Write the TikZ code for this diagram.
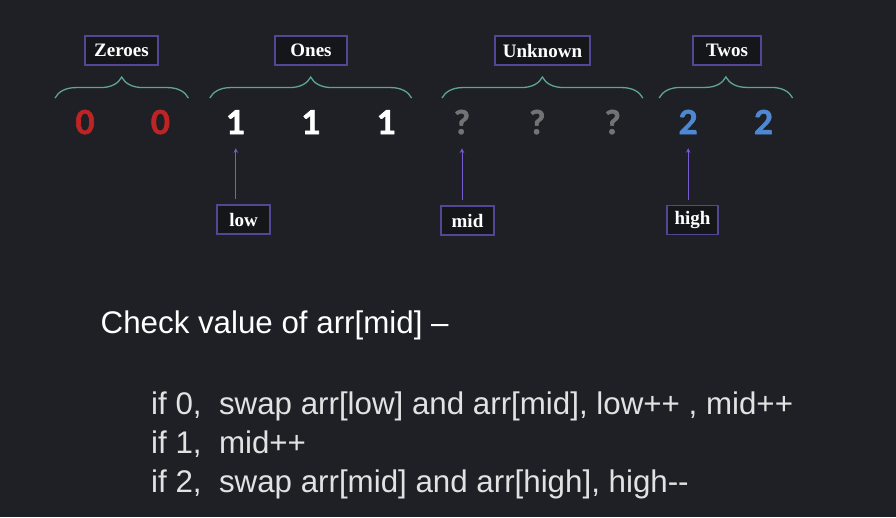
\documentclass[tikz,border=0pt]{standalone}
\usepackage{fontspec}
\setmainfont{Liberation Sans}
\newfontfamily\digitfont[BoldFeatures={FakeBold=2}]{Lato}
\newfontfamily\labelfont{Liberation Serif}
\usepackage{tikz}
\usetikzlibrary{arrows,positioning,calc,decorations.pathreplacing}
\definecolor{dsbg}{RGB}{30,32,38}
\definecolor{dsboxfill}{RGB}{21,22,26}
\definecolor{dspurple}{RGB}{84,70,148}
\definecolor{dsarrow}{RGB}{122,92,210}
\definecolor{dsteal}{RGB}{95,165,150}
\definecolor{dsred}{RGB}{190,36,36}
\definecolor{dsgray}{RGB}{115,115,118}
\definecolor{dsblue}{RGB}{78,136,210}
\definecolor{dstext}{RGB}{226,226,226}
\tikzstyle{digit} = [font=\digitfont\fontsize{33}{33}\selectfont\bfseries, inner sep=0pt, anchor=base]
\tikzstyle{tag} = [draw=dspurple, line width=1.5pt, fill=dsboxfill, text=white, font=\labelfont\fontsize{19}{19}\selectfont\bfseries, minimum height=29pt, inner sep=0pt]
\tikzstyle{group} = [dsteal, line width=1.3pt, decorate, decoration={brace, amplitude=21pt}]
\tikzstyle{arrow} = [line width=1pt,->,>=stealth,color=dsarrow]
\tikzstyle{rule} = [font=\fontsize{31.3}{31.3}\selectfont, text=dstext, anchor=base west, inner sep=0pt]

\begin{document}
\begin{tikzpicture}[x=1pt, y=-1pt]
    % Background
    \fill[dsbg] (0,0) rectangle (896,517);
    \useasboundingbox (0,0) rectangle (896,517);

    % Array values
    \foreach \val/\col [count=\i] in {0/dsred,0/dsred,1/white,1/white,1/white,?/dsgray,?/dsgray,?/dsgray,2/dsblue,2/dsblue}
        \node[digit, text=\col] (d\i) at ({85+75.4*(\i-1)},134) {\val};

    % Braces
    \draw[group] ($(d1)+(-30,-24)$) -- ($(d2)+(28,-24)$);
    \draw[group] ($(d3)+(-26,-24)$) -- ($(d5)+(25,-24)$);
    \draw[group] ($(d6)+(-20,-24)$) -- ($(d8)+(30,-24)$);
    \draw[group] ($(d9)+(-29,-24)$) -- ($(d10)+(29,-24)$);

    % Group labels
    \node[tag, minimum width=73pt] (zeroes) at (121.5,50.5) {Zeroes};
    \node[tag, minimum width=72pt] (ones) at (311,50.5) {Ones};
    \node[tag, minimum width=95pt] (unknown) at (542.5,50.5) {Unknown};
    \node[tag, minimum width=68pt] (twos) at (727,50.5) {Twos};

    % Pointers
    \node[tag, minimum width=53pt] (low) at (243.5,219.5) {low};
    \node[tag, minimum width=53pt] (mid) at (467.5,220.5) {mid};
    \node[tag, minimum width=51pt] (high) at (692.5,220) {high};
    \draw[arrow, shorten <=5pt, shorten >=14pt] (low.north -| d3) -- (d3.south);
    \draw[arrow, shorten <=5pt, shorten >=14pt] (mid.north -| d6) -- (d6.south);
    \draw[arrow, shorten <=5pt, shorten >=14pt] (high.north -| d9) -- (d9.south);

    % Rules
    \node[rule, text=white] (check) at (100.5,333) {Check value of arr[mid] –};
    \node[rule] (case0) at (151,414) {if 0,\ \ swap arr[low] and arr[mid], low++ , mid++};
    \node[rule] (case1) at (151,453) {if 1,\ \ mid++};
    \node[rule] (case2) at (151,492) {if 2,\ \ swap arr[mid] and arr[high], high-{}-};
\end{tikzpicture}
\end{document}
